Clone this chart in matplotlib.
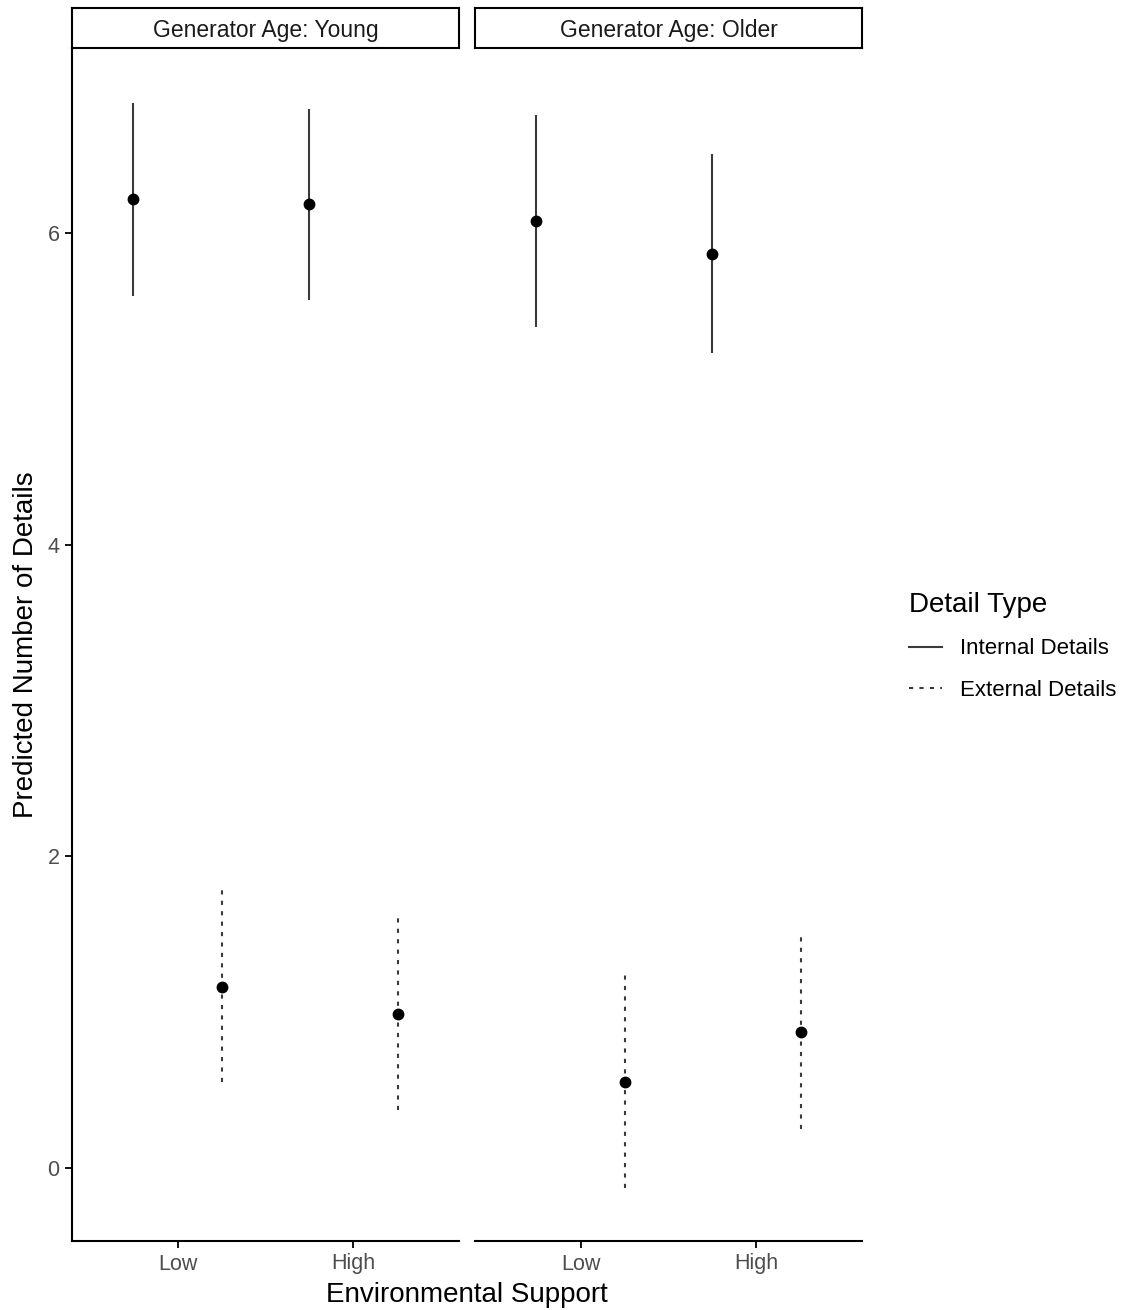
import matplotlib.pyplot as plt
from matplotlib.lines import Line2D

plt.rcParams['font.family'] = ['Liberation Sans', 'DejaVu Sans']

# data
support = ["Low", "High"]
ages = ["Young", "Older"]
detail_types = ["Internal Details", "External Details"]

# estimate, lower, upper per age -> detail type -> [Low, High]
est = {
    "Young": {"Internal Details": [6.22, 6.19], "External Details": [1.16, 0.99]},
    "Older": {"Internal Details": [6.08, 5.87], "External Details": [0.55, 0.87]},
}
lower = {
    "Young": {"Internal Details": [5.60, 5.57], "External Details": [0.55, 0.37]},
    "Older": {"Internal Details": [5.40, 5.23], "External Details": [-0.13, 0.25]},
}
upper = {
    "Young": {"Internal Details": [6.84, 6.80], "External Details": [1.79, 1.61]},
    "Older": {"Internal Details": [6.76, 6.51], "External Details": [1.24, 1.50]},
}

W, H = 1123, 1310
fig = plt.figure(figsize=(W / 100, H / 100), dpi=100)

def fx(px):
    return px / W

def fy(py):
    return 1 - py / H

dodge = {"Internal Details": -0.253, "External Details": 0.253}
styles = {"Internal Details": "-", "External Details": (0, (2, 3))}
line_col = "#3a3a3a"

panel_left = [72, 475]
panel_w = 387
top, bottom = 48, 1241

axes = []
for i, age in enumerate(ages):
    ax = fig.add_axes([fx(panel_left[i]), fy(bottom), fx(panel_w), (bottom - top) / H])
    for dt in detail_types:
        xs = [j + 1 + dodge[dt] for j in range(len(support))]
        ax.vlines(xs, lower[age][dt], upper[age][dt], colors=line_col,
                  linestyles=styles[dt], linewidth=1.5)
        ax.plot(xs, est[age][dt], 'o', color='black', markersize=7.5, zorder=3)
    ax.set_xlim(0.4, 2.6)
    ax.set_ylim(-0.47, 7.19)
    ax.set_xticks([1, 2])
    ax.set_xticklabels(support)
    ax.set_yticks([0, 2, 4, 6])
    for s in ["top", "right"]:
        ax.spines[s].set_visible(False)
    ax.spines["bottom"].set_linewidth(1.5)
    ax.spines["left"].set_linewidth(1.5)
    ax.tick_params(axis='both', length=5, width=1.3, labelsize=15.5,
                   labelcolor='#4D4D4D', pad=4)
    if i > 0:
        ax.spines["left"].set_visible(False)
        ax.tick_params(axis='y', left=False, labelleft=False)
    # facet strip
    strip = fig.add_axes([fx(panel_left[i]), fy(48), fx(panel_w), 40 / H])
    strip.set_xticks([])
    strip.set_yticks([])
    for s in strip.spines.values():
        s.set_linewidth(1.5)
    strip.text(0.5, 0.44, f"Generator Age: {age}", ha='center', va='center',
               fontsize=16.5, color='#1A1A1A', transform=strip.transAxes)
    axes.append(ax)

axes[0].set_ylabel("Predicted Number of Details", fontsize=20, labelpad=6)
fig.text(fx(467), fy(1295), "Environmental Support", ha='center', va='center', fontsize=20)

handles = [Line2D([], [], color=line_col, linestyle=styles[dt], linewidth=1.5)
           for dt in detail_types]
fig.legend(handles, detail_types, loc='upper left',
           bbox_to_anchor=(fx(889), fy(572)), frameon=False,
           title="Detail Type", title_fontsize=20, fontsize=16,
           handlelength=1.5, handletextpad=0.8, labelspacing=0.92,
           alignment='left')

fig.savefig("out.png", dpi=100)
